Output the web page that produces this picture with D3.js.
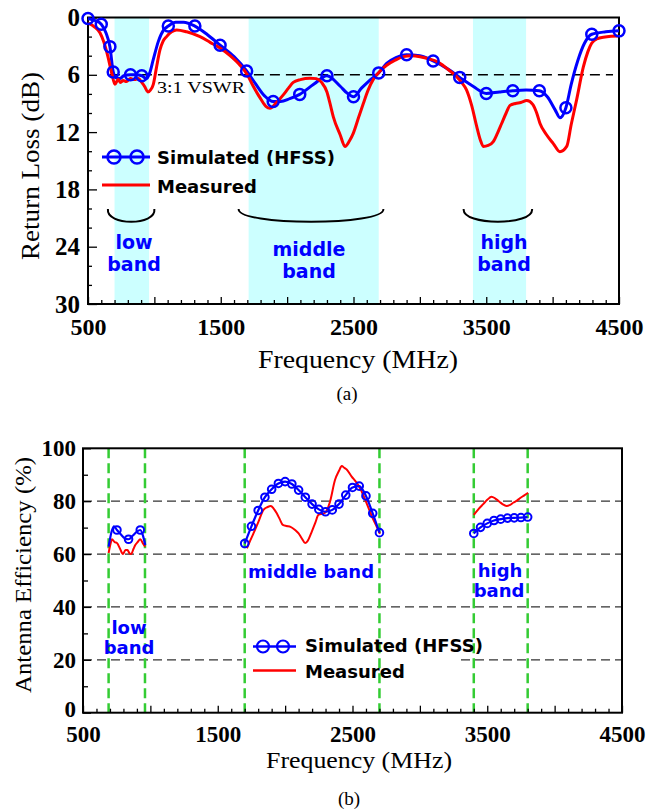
<!DOCTYPE html>
<html>
<head>
<meta charset="utf-8">
<script src="https://cdn.jsdelivr.net/npm/d3@7"></script>
<style>
  body { margin: 0; background: #fff; }
</style>
</head>
<body>
<div id="chart"></div>
<script>
// ---- data, panel (a): return loss ----
const bandsA = [[700, 960], [1710, 2690], [3400, 3800]];
const rlTicks = [0, 6, 12, 18, 24, 30];
const freqTicks = [500, 1500, 2500, 3500, 4500];

const simFreqA = [500, 550, 600, 635, 665, 690, 710, 740, 770, 820, 860, 905, 940, 965, 990, 1030, 1070, 1105, 1160, 1220, 1305, 1400, 1495, 1600, 1695, 1760, 1830, 1895, 1950, 2020, 2095, 2200, 2300, 2400, 2450, 2500, 2560, 2620, 2690, 2750, 2820, 2900, 3000, 3100, 3200, 3300, 3400, 3500, 3600, 3700, 3800, 3900, 3960, 4020, 4055, 4100, 4140, 4190, 4240, 4295, 4400, 4500];
const simRLA = [0.1, 0.3, 0.7, 1.6, 3.05, 5.7, 6.3, 6.4, 6.1, 6.0, 6.0, 6.1, 6.4, 5.8, 4.5, 2.5, 1.3, 0.9, 0.5, 0.5, 0.9, 1.8, 2.9, 4.1, 5.6, 6.9, 8.2, 8.8, 8.8, 8.5, 8.05, 7.0, 6.1, 7.2, 7.9, 8.3, 7.4, 6.6, 5.8, 4.8, 4.2, 3.9, 4.0, 4.55, 5.3, 6.27, 7.2, 7.95, 7.8, 7.67, 7.6, 7.67, 8.3, 9.7, 10.5, 9.45, 7.0, 4.5, 2.7, 1.75, 1.5, 1.4];
const simMarkFreqA = [500, 600, 665, 690, 820, 905, 1105, 1305, 1495, 1695, 1895, 2095, 2300, 2500, 2690, 2900, 3100, 3300, 3500, 3700, 3900, 4100, 4295, 4500];
const simMarkRLA = [0.1, 0.7, 3.05, 5.7, 6.0, 6.1, 0.9, 0.9, 2.9, 5.6, 8.8, 8.05, 6.1, 8.3, 5.8, 3.9, 4.55, 6.27, 7.95, 7.67, 7.67, 9.45, 1.75, 1.4];

const measFreqA = [500, 550, 590, 620, 650, 680, 703, 727, 745, 765, 790, 820, 850, 880, 905, 930, 950, 970, 992, 1015, 1042, 1065, 1092, 1130, 1168, 1243, 1344, 1420, 1494, 1570, 1645, 1700, 1745, 1800, 1840, 1871, 1920, 1971, 2010, 2046, 2100, 2172, 2220, 2260, 2300, 2323, 2348, 2400, 2436, 2470, 2499, 2540, 2574, 2610, 2649, 2700, 2750, 2810, 2875, 2940, 3001, 3060, 3127, 3200, 3277, 3320, 3352, 3390, 3428, 3455, 3478, 3515, 3553, 3585, 3616, 3650, 3679, 3720, 3760, 3805, 3850, 3880, 3905, 3950, 4005, 4055, 4106, 4140, 4181, 4231, 4265, 4294, 4340, 4382, 4440, 4492];
const measRLA = [0.6, 1.0, 1.6, 2.6, 4.1, 5.9, 7.0, 6.5, 6.8, 6.6, 6.7, 6.4, 6.5, 6.4, 6.8, 7.3, 7.8, 7.6, 7.0, 5.3, 3.4, 2.5, 2.0, 1.5, 1.3, 1.5, 2.0, 2.6, 3.2, 4.0, 5.0, 6.0, 7.2, 8.5, 9.3, 9.5, 8.9, 8.1, 7.4, 6.8, 6.5, 6.35, 6.4, 6.8, 7.8, 9.0, 10.4, 12.3, 13.5, 12.9, 12.1, 10.4, 9.0, 7.6, 6.5, 5.6, 5.0, 4.5, 4.1, 4.0, 4.1, 4.3, 4.6, 5.3, 6.2, 6.9, 7.6, 9.2, 11.4, 12.8, 13.5, 13.4, 13.0, 12.1, 11.1, 10.0, 9.2, 9.0, 8.9, 8.7, 9.1, 10.0, 11.1, 12.2, 13.2, 14.05, 13.5, 11.2, 8.6, 5.2, 3.6, 2.7, 2.2, 2.07, 1.97, 1.94];

// ---- data, panel (b): antenna efficiency ----
const bandEdgesB = [690, 960, 1700, 2700, 3400, 3800];
const effTicks = [0, 20, 40, 60, 80, 100];

const simLowFreq = [690, 715, 730, 752, 780, 810, 838, 870, 900, 925, 945, 962];
const simLowEff = [62.8, 69, 70.5, 69.1, 67.5, 66, 65.6, 67, 68.5, 69.1, 67, 63.4];
const simLowMarkFreq = [752, 838, 925];
const simLowMarkEff = [69.1, 65.6, 69.1];
const measLowFreq = [690, 705, 715, 735, 752, 775, 796, 815, 830, 845, 857, 875, 888, 905, 925, 945, 962];
const measLowEff = [60.4, 64, 65.6, 64.5, 64.2, 62, 60, 61.5, 61.5, 60.3, 60, 62, 63.4, 64.5, 65.6, 64, 62.8];

const simMidFreq = [1700, 1750, 1800, 1850, 1900, 1950, 2000, 2050, 2100, 2150, 2200, 2250, 2300, 2350, 2400, 2450, 2500, 2550, 2600, 2650, 2700];
const simMidEff = [64, 70.5, 76.5, 81.5, 84.5, 86.7, 87.4, 86.5, 84.2, 81.5, 78.9, 76.9, 76, 76.7, 78.9, 82.3, 85.2, 85.7, 82, 75.4, 68.1];
const measMidFreq = [1716, 1740, 1765, 1800, 1839, 1870, 1894, 1915, 1938, 1960, 1983, 2010, 2040, 2074, 2100, 2123, 2148, 2165, 2198, 2225, 2247, 2280, 2296, 2333, 2370, 2400, 2420, 2440, 2457, 2494, 2530, 2556, 2605, 2643, 2680, 2704];
const measMidEff = [62.2, 65, 67.8, 72, 76.7, 77.8, 78.2, 77.2, 75.4, 73.2, 71.0, 70.6, 70.3, 69.1, 67.8, 66.0, 64.2, 64.8, 68.5, 72, 74.8, 75.3, 75.6, 79.8, 88.0, 91.5, 93.3, 92.6, 92.0, 89.3, 87, 84.9, 79.2, 74.4, 70.3, 67.7];

const simHighFreq = [3400, 3450, 3500, 3550, 3600, 3650, 3700, 3750, 3800];
const simHighEff = [67.8, 70.1, 71.6, 72.7, 73.2, 73.6, 73.7, 73.8, 74.0];
const measHighFreq = [3400, 3435, 3470, 3500, 3532, 3560, 3590, 3615, 3643, 3670, 3692, 3720, 3742, 3775, 3803];
const measHighEff = [74.8, 77, 78.9, 80.5, 81.7, 81, 79.8, 78.8, 78.2, 78.6, 79.4, 80.2, 81.1, 82.2, 83.2];

const BLUE = "#0000ff", RED = "#ff0000", CYAN = "#ccffff", GREEN = "#33cc33";
const SERIF = "'Liberation Serif', 'Times New Roman', serif";
const SANS = "'DejaVu Sans', Verdana, sans-serif";

const svg = d3.select("#chart")
    .append("svg")
    .attr("width", 657)
    .attr("height", 812);

const zip = (a, b) => a.map((v, i) => [v, b[i]]);

// ================= panel (a) =================
const xA = d3.scaleLinear().domain([500, 4500]).range([88, 619]);
const yA = d3.scaleLinear().domain([0, 30]).range([17.5, 304]);

svg.selectAll(".bandA")
    .data(bandsA)
    .join("rect")
    .attr("class", "bandA")
    .attr("x", d => xA(d[0]))
    .attr("width", d => xA(d[1]) - xA(d[0]))
    .attr("y", yA(0))
    .attr("height", yA(30) - yA(0))
    .attr("fill", CYAN);

// 3:1 VSWR reference
svg.append("line")
    .attr("x1", xA(665)).attr("x2", xA(4455))
    .attr("y1", yA(6)).attr("y2", yA(6))
    .attr("stroke", "#000")
    .attr("stroke-width", 1.6)
    .attr("stroke-dasharray", "10,6");

svg.append("text")
    .attr("x", 157).attr("y", 92.5)
    .attr("font-family", SERIF)
    .attr("font-size", 17)
    .attr("textLength", 88)
    .attr("lengthAdjust", "spacingAndGlyphs")
    .text("3:1 VSWR");

// axes (ticks point inward)
const axA = svg.append("g").attr("transform", `translate(0,${yA(30)})`)
    .call(d3.axisBottom(xA)
        .tickValues(d3.range(500, 4501, 100))
        .tickSize(-4)
        .tickPadding(14)
        .tickFormat(d => freqTicks.includes(d) ? d : ""));
axA.selectAll(".tick line").attr("y2", d => d % 500 === 0 ? -7 : -4).attr("stroke-width", 1.3);

const ayA = svg.append("g").attr("transform", `translate(${xA(500)},0)`)
    .call(d3.axisLeft(yA)
        .tickValues(d3.range(0, 31, 2))
        .tickSize(-4)
        .tickPadding(8)
        .tickFormat(d => rlTicks.includes(d) ? d : ""));
ayA.selectAll(".tick line").attr("x2", d => d % 6 === 0 ? 9 : 4).attr("stroke-width", 1.3);

[axA, ayA].forEach(g => {
    g.select(".domain").remove();
    g.selectAll("text")
        .attr("font-family", SERIF)
        .attr("font-weight", "bold")
        .attr("fill", "#000");
});
axA.selectAll("text").attr("font-size", 24);
ayA.selectAll("text").attr("font-size", 25);

svg.append("rect")
    .attr("x", xA(500)).attr("y", yA(0))
    .attr("width", xA(4500) - xA(500))
    .attr("height", yA(30) - yA(0))
    .attr("fill", "none")
    .attr("stroke", "#000")
    .attr("stroke-width", 2);

// band brackets
const bracketsA = [[650, 1000], [1635, 2725], [3330, 3845]];
svg.selectAll(".bracket")
    .data(bracketsA)
    .join("path")
    .attr("class", "bracket")
    .attr("d", d => {
        const x1 = xA(d[0]), x2 = xA(d[1]), y = 209;
        return `M${x1},${y} C${x1 - 2},${y + 17} ${x2 + 2},${y + 17} ${x2},${y}`;
    })
    .attr("fill", "none")
    .attr("stroke", "#000")
    .attr("stroke-width", 2);

// curves
const lineA = d3.line().x(d => xA(d[0])).y(d => yA(d[1])).curve(d3.curveMonotoneX);

svg.append("path")
    .datum(zip(simFreqA, simRLA))
    .attr("d", lineA)
    .attr("fill", "none")
    .attr("stroke", BLUE)
    .attr("stroke-width", 3);

svg.append("path")
    .datum(zip(measFreqA, measRLA))
    .attr("d", lineA)
    .attr("fill", "none")
    .attr("stroke", RED)
    .attr("stroke-width", 3);

svg.selectAll(".markA")
    .data(zip(simMarkFreqA, simMarkRLA))
    .join("circle")
    .attr("class", "markA")
    .attr("cx", d => xA(d[0]))
    .attr("cy", d => yA(d[1]))
    .attr("r", 5.5)
    .attr("fill", "none")
    .attr("stroke", BLUE)
    .attr("stroke-width", 2.5);

// legend (a)
svg.append("line").attr("x1", 102).attr("x2", 150).attr("y1", 157).attr("y2", 157)
    .attr("stroke", BLUE).attr("stroke-width", 3);
[114, 137].forEach(cx => svg.append("circle").attr("cx", cx).attr("cy", 157).attr("r", 6.5)
    .attr("fill", "none").attr("stroke", BLUE).attr("stroke-width", 2.5));
svg.append("line").attr("x1", 102).attr("x2", 150).attr("y1", 185).attr("y2", 185)
    .attr("stroke", RED).attr("stroke-width", 3);
svg.append("text").attr("x", 157).attr("y", 164).text("Simulated (HFSS)")
    .attr("font-family", SANS).attr("font-weight", "bold").attr("font-size", 18);
svg.append("text").attr("x", 157).attr("y", 192.5).text("Measured")
    .attr("font-family", SANS).attr("font-weight", "bold").attr("font-size", 18);

// band labels (a)
const bandLabelsA = [
    { x: 134, lines: ["low", "band"] },
    { x: 309, lines: ["middle", "band"] },
    { x: 504, lines: ["high", "band"] }
];
bandLabelsA.forEach(b => {
    b.lines.forEach((t, i) => svg.append("text")
        .attr("x", b.x).attr("y", (b.x === 309 ? 256 : 249) + i * 22)
        .attr("text-anchor", "middle")
        .attr("font-family", SANS).attr("font-weight", "bold").attr("font-size", 19)
        .attr("fill", BLUE)
        .text(t));
});

// titles (a)
svg.append("text")
    .attr("transform", "translate(39,166) rotate(-90)")
    .attr("text-anchor", "middle")
    .attr("font-family", SERIF).attr("font-size", 25)
    .attr("textLength", 188).attr("lengthAdjust", "spacingAndGlyphs")
    .text("Return Loss (dB)");
svg.append("text")
    .attr("x", 358).attr("y", 368)
    .attr("text-anchor", "middle")
    .attr("font-family", SERIF).attr("font-size", 25)
    .attr("textLength", 200).attr("lengthAdjust", "spacingAndGlyphs")
    .text("Frequency (MHz)");
svg.append("text")
    .attr("x", 347).attr("y", 400)
    .attr("text-anchor", "middle")
    .attr("font-family", SERIF).attr("font-size", 19)
    .text("(a)");

// ================= panel (b) =================
const xB = d3.scaleLinear().domain([500, 4500]).range([83, 622]);
const yB = d3.scaleLinear().domain([0, 100]).range([712.7, 448.3]);

// horizontal grid
svg.selectAll(".gridB")
    .data([20, 40, 60, 80])
    .join("line")
    .attr("class", "gridB")
    .attr("x1", xB(500)).attr("x2", xB(4500))
    .attr("y1", d => yB(d)).attr("y2", d => yB(d))
    .attr("stroke", "#333")
    .attr("stroke-width", 1.2)
    .attr("stroke-dasharray", "9,5");

// legend box hides the grid
svg.append("rect")
    .attr("x", 242).attr("y", 632)
    .attr("width", 216).attr("height", 55)
    .attr("fill", "#fff");

svg.selectAll(".edgeB")
    .data(bandEdgesB)
    .join("line")
    .attr("class", "edgeB")
    .attr("x1", d => xB(d)).attr("x2", d => xB(d))
    .attr("y1", yB(100)).attr("y2", yB(0))
    .attr("stroke", GREEN)
    .attr("stroke-width", 2.5)
    .attr("stroke-dasharray", "10,5");

const axB = svg.append("g").attr("transform", `translate(0,${yB(0)})`)
    .call(d3.axisBottom(xB)
        .tickValues(d3.range(500, 4501, 100))
        .tickSize(-4)
        .tickPadding(13)
        .tickFormat(d => freqTicks.includes(d) ? d : ""));
axB.selectAll(".tick line").attr("y2", d => d % 500 === 0 ? -7 : -4).attr("stroke-width", 1.3);

const ayB = svg.append("g").attr("transform", `translate(${xB(500)},0)`)
    .call(d3.axisLeft(yB)
        .tickValues(d3.range(0, 101, 10))
        .tickSize(-5)
        .tickPadding(7)
        .tickFormat(d => effTicks.includes(d) ? d : ""));
ayB.selectAll(".tick line").attr("x2", d => d % 20 === 0 ? 8 : 5).attr("stroke-width", 1.3);

[axB, ayB].forEach(g => {
    g.select(".domain").remove();
    g.selectAll("text")
        .attr("font-family", SERIF)
        .attr("font-weight", "bold")
        .attr("font-size", 23)
        .attr("fill", "#000");
});
// keep the bottom "0" clear of the "500" below it
ayB.selectAll(".tick text").filter(d => d === 0).attr("dy", "0.15em");

svg.append("rect")
    .attr("x", xB(500)).attr("y", yB(100))
    .attr("width", xB(4500) - xB(500))
    .attr("height", yB(0) - yB(100))
    .attr("fill", "none")
    .attr("stroke", "#000")
    .attr("stroke-width", 2);

const lineB = d3.line().x(d => xB(d[0])).y(d => yB(d[1])).curve(d3.curveMonotoneX);

const measSegs = [zip(measLowFreq, measLowEff), zip(measMidFreq, measMidEff), zip(measHighFreq, measHighEff)];
const simSegs = [zip(simLowFreq, simLowEff), zip(simMidFreq, simMidEff), zip(simHighFreq, simHighEff)];

svg.selectAll(".measB")
    .data(measSegs)
    .join("path")
    .attr("class", "measB")
    .attr("d", lineB)
    .attr("fill", "none")
    .attr("stroke", RED)
    .attr("stroke-width", 2);

svg.selectAll(".simB")
    .data(simSegs)
    .join("path")
    .attr("class", "simB")
    .attr("d", lineB)
    .attr("fill", "none")
    .attr("stroke", BLUE)
    .attr("stroke-width", 2.2);

const marksB = zip(simLowMarkFreq, simLowMarkEff)
    .concat(zip(simMidFreq, simMidEff), zip(simHighFreq, simHighEff));
svg.selectAll(".markB")
    .data(marksB)
    .join("circle")
    .attr("class", "markB")
    .attr("cx", d => xB(d[0]))
    .attr("cy", d => yB(d[1]))
    .attr("r", 3.8)
    .attr("fill", "none")
    .attr("stroke", BLUE)
    .attr("stroke-width", 2);

// legend (b)
svg.append("line").attr("x1", 253).attr("x2", 296).attr("y1", 646.5).attr("y2", 646.5)
    .attr("stroke", BLUE).attr("stroke-width", 2.5);
[263, 283].forEach(cx => svg.append("circle").attr("cx", cx).attr("cy", 646.5).attr("r", 6)
    .attr("fill", "none").attr("stroke", BLUE).attr("stroke-width", 2.2));
svg.append("line").attr("x1", 253).attr("x2", 296).attr("y1", 670.5).attr("y2", 670.5)
    .attr("stroke", RED).attr("stroke-width", 2.5);
svg.append("text").attr("x", 305).attr("y", 652).text("Simulated (HFSS)")
    .attr("font-family", SANS).attr("font-weight", "bold").attr("font-size", 18);
svg.append("text").attr("x", 305).attr("y", 678).text("Measured")
    .attr("font-family", SANS).attr("font-weight", "bold").attr("font-size", 18);

// band labels (b)
const bandLabelsB = [
    { x: 129, y: 634, t: "low" }, { x: 129, y: 654, t: "band" },
    { x: 311, y: 578, t: "middle band" },
    { x: 500, y: 576.5, t: "high" }, { x: 499, y: 596.5, t: "band" }
];
svg.selectAll(".lblB")
    .data(bandLabelsB)
    .join("text")
    .attr("class", "lblB")
    .attr("x", d => d.x).attr("y", d => d.y)
    .attr("text-anchor", "middle")
    .attr("font-family", SANS).attr("font-weight", "bold").attr("font-size", 18)
    .attr("fill", BLUE)
    .text(d => d.t);

// titles (b)
svg.append("text")
    .attr("transform", "translate(31,575) rotate(-90)")
    .attr("text-anchor", "middle")
    .attr("font-family", SERIF).attr("font-size", 24)
    .attr("textLength", 236).attr("lengthAdjust", "spacingAndGlyphs")
    .text("Antenna Efficiency (%)");
svg.append("text")
    .attr("x", 359).attr("y", 768)
    .attr("text-anchor", "middle")
    .attr("font-family", SERIF).attr("font-size", 24)
    .attr("textLength", 186).attr("lengthAdjust", "spacingAndGlyphs")
    .text("Frequency (MHz)");
svg.append("text")
    .attr("x", 349).attr("y", 805)
    .attr("text-anchor", "middle")
    .attr("font-family", SERIF).attr("font-size", 19)
    .text("(b)");
</script>
</body>
</html>
